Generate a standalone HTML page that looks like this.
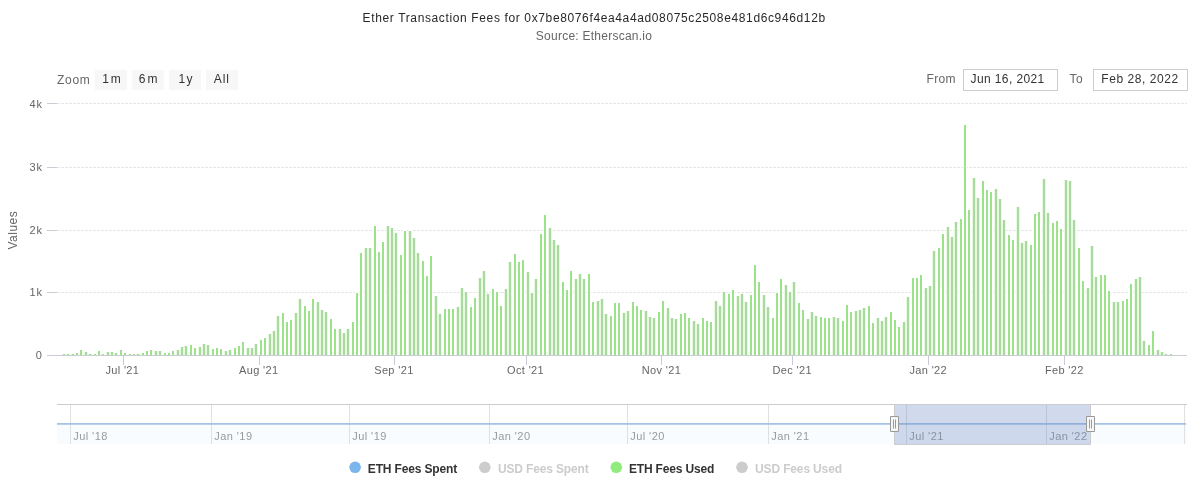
<!DOCTYPE html>
<html><head><meta charset="utf-8"><title>Ether Transaction Fees</title>
<style>svg{will-change:transform}html,body{margin:0;padding:0;background:#fff;width:1195px;height:482px;overflow:hidden;}</style>
</head><body>
<svg width="1195" height="482" viewBox="0 0 1195 482" style="display:block;font-family:'Liberation Sans', sans-serif">
<rect x="0" y="0" width="1195" height="482" fill="#ffffff"/>
<text x="594.2" y="22" text-anchor="middle" font-size="12" fill="#282828" letter-spacing="0.63">Ether Transaction Fees for 0x7be8076f4ea4a4ad08075c2508e481d6c946d12b</text>
<text x="594" y="40" text-anchor="middle" font-size="12" fill="#666666" letter-spacing="0.25">Source: Etherscan.io</text>
<text x="57" y="83.6" font-size="12" fill="#666666" letter-spacing="0.7">Zoom</text>
<rect x="95" y="70" width="32" height="20" fill="#f7f7f7"/>
<text x="112.50" y="82.7" text-anchor="middle" font-size="12" fill="#333333" letter-spacing="1.8">1m</text>
<rect x="132" y="70" width="32" height="20" fill="#f7f7f7"/>
<text x="149.10" y="82.7" text-anchor="middle" font-size="12" fill="#333333" letter-spacing="2.0">6m</text>
<rect x="169" y="70" width="32" height="20" fill="#f7f7f7"/>
<text x="186.25" y="82.7" text-anchor="middle" font-size="12" fill="#333333" letter-spacing="1.5">1y</text>
<rect x="206" y="70" width="32" height="20" fill="#f7f7f7"/>
<text x="221.80" y="82.7" text-anchor="middle" font-size="12" fill="#333333" letter-spacing="1.0">All</text>
<text x="926.5" y="83.2" font-size="12" fill="#666666" letter-spacing="0.3">From</text>
<rect x="963.5" y="69.5" width="94" height="21" fill="#ffffff" stroke="#cccccc" stroke-width="1"/>
<text x="1007.6" y="83.2" text-anchor="middle" font-size="12" fill="#333333" letter-spacing="0.4">Jun 16, 2021</text>
<text x="1069.5" y="83.2" font-size="12" fill="#666666" letter-spacing="0.6">To</text>
<rect x="1093.5" y="69.5" width="94" height="21" fill="#ffffff" stroke="#cccccc" stroke-width="1"/>
<text x="1140" y="83.2" text-anchor="middle" font-size="12" fill="#333333" letter-spacing="0.55">Feb 28, 2022</text>
<path d="M47 355.5 H57" stroke="#c9ccd4" stroke-width="1" fill="none"/>
<text x="42.9" y="359" text-anchor="end" font-size="11" fill="#666666" letter-spacing="0.9">0</text>
<path d="M57 292.5 H1187" stroke="#e6e6e6" stroke-width="1" stroke-dasharray="3,1" fill="none"/>
<path d="M47 292.5 H57" stroke="#c9ccd4" stroke-width="1" fill="none"/>
<text x="42.9" y="296" text-anchor="end" font-size="11" fill="#666666" letter-spacing="0.9">1k</text>
<path d="M57 230.5 H1187" stroke="#e6e6e6" stroke-width="1" stroke-dasharray="3,1" fill="none"/>
<path d="M47 230.5 H57" stroke="#c9ccd4" stroke-width="1" fill="none"/>
<text x="42.9" y="234" text-anchor="end" font-size="11" fill="#666666" letter-spacing="0.9">2k</text>
<path d="M57 167.5 H1187" stroke="#e6e6e6" stroke-width="1" stroke-dasharray="3,1" fill="none"/>
<path d="M47 167.5 H57" stroke="#c9ccd4" stroke-width="1" fill="none"/>
<text x="42.9" y="171" text-anchor="end" font-size="11" fill="#666666" letter-spacing="0.9">3k</text>
<path d="M57 103.5 H1187" stroke="#e6e6e6" stroke-width="1" stroke-dasharray="3,1" fill="none"/>
<path d="M47 103.5 H57" stroke="#c9ccd4" stroke-width="1" fill="none"/>
<text x="42.9" y="108" text-anchor="end" font-size="11" fill="#666666" letter-spacing="0.9">4k</text>
<text transform="translate(16.6 230.1) rotate(-90)" text-anchor="middle" font-size="12" fill="#666666" letter-spacing="0.5">Values</text>
<path d="M62 353h4V355h-4zM66 353h4V355h-4zM71 353h4V355h-4zM75 352h4V355h-4zM79 349h4V355h-4zM84 351h4V355h-4zM88 353h4V355h-4zM93 353h4V355h-4zM97 350h4V355h-4zM101 353h4V355h-4zM106 351h4V355h-4zM110 351h4V355h-4zM114 352h4V355h-4zM119 349h4V355h-4zM123 352h4V355h-4zM128 353h4V355h-4zM132 353h4V355h-4zM136 353h4V355h-4zM141 352h4V355h-4zM145 350h4V355h-4zM149 349h4V355h-4zM154 350h4V355h-4zM158 350h4V355h-4zM163 352h4V355h-4zM167 352h4V355h-4zM171 350h4V355h-4zM176 349h4V355h-4zM180 346h4V355h-4zM184 345h4V355h-4zM189 344h4V355h-4zM193 347h4V355h-4zM198 346h4V355h-4zM202 343h4V355h-4zM206 344h4V355h-4zM211 348h4V355h-4zM215 347h4V355h-4zM219 348h4V355h-4zM224 350h4V355h-4zM228 349h4V355h-4zM233 347h4V355h-4zM237 345h4V355h-4zM241 341h4V355h-4zM246 347h4V355h-4zM250 347h4V355h-4zM254 343h4V355h-4zM259 339h4V355h-4zM263 337h4V355h-4zM268 333h4V355h-4zM272 330h4V355h-4zM276 315h4V355h-4zM281 312h4V355h-4zM285 321h4V355h-4zM289 319h4V355h-4zM294 312h4V355h-4zM298 298h4V355h-4zM303 305h4V355h-4zM307 310h4V355h-4zM311 298h4V355h-4zM316 301h4V355h-4zM320 309h4V355h-4zM324 311h4V355h-4zM329 318h4V355h-4zM333 328h4V355h-4zM338 328h4V355h-4zM342 332h4V355h-4zM346 328h4V355h-4zM351 321h4V355h-4zM355 292h4V355h-4zM359 252h4V355h-4zM364 247h4V355h-4zM368 247h4V355h-4zM373 225h4V355h-4zM377 251h4V355h-4zM381 241h4V355h-4zM386 225h4V355h-4zM390 227h4V355h-4zM394 232h4V355h-4zM399 254h4V355h-4zM403 230h4V355h-4zM408 230h4V355h-4zM412 237h4V355h-4zM416 252h4V355h-4zM421 260h4V355h-4zM425 275h4V355h-4zM429 255h4V355h-4zM434 295h4V355h-4zM438 313h4V355h-4zM443 308h4V355h-4zM447 308h4V355h-4zM451 308h4V355h-4zM456 306h4V355h-4zM460 287h4V355h-4zM464 291h4V355h-4zM469 306h4V355h-4zM473 297h4V355h-4zM478 277h4V355h-4zM482 270h4V355h-4zM486 293h4V355h-4zM491 288h4V355h-4zM495 291h4V355h-4zM499 305h4V355h-4zM504 288h4V355h-4zM508 261h4V355h-4zM513 253h4V355h-4zM517 261h4V355h-4zM521 259h4V355h-4zM526 271h4V355h-4zM530 292h4V355h-4zM534 278h4V355h-4zM539 233h4V355h-4zM543 214h4V355h-4zM548 227h4V355h-4zM552 239h4V355h-4zM556 244h4V355h-4zM561 281h4V355h-4zM565 289h4V355h-4zM569 270h4V355h-4zM574 278h4V355h-4zM578 273h4V355h-4zM582 278h4V355h-4zM587 273h4V355h-4zM591 301h4V355h-4zM596 300h4V355h-4zM600 298h4V355h-4zM604 313h4V355h-4zM609 315h4V355h-4zM613 302h4V355h-4zM617 302h4V355h-4zM622 312h4V355h-4zM626 310h4V355h-4zM631 301h4V355h-4zM635 305h4V355h-4zM639 309h4V355h-4zM644 310h4V355h-4zM648 316h4V355h-4zM652 317h4V355h-4zM657 311h4V355h-4zM661 300h4V355h-4zM666 307h4V355h-4zM670 317h4V355h-4zM674 318h4V355h-4zM679 313h4V355h-4zM683 312h4V355h-4zM687 317h4V355h-4zM692 320h4V355h-4zM696 323h4V355h-4zM701 317h4V355h-4zM705 320h4V355h-4zM709 321h4V355h-4zM714 300h4V355h-4zM718 305h4V355h-4zM722 291h4V355h-4zM727 293h4V355h-4zM731 289h4V355h-4zM736 295h4V355h-4zM740 293h4V355h-4zM744 301h4V355h-4zM749 294h4V355h-4zM753 264h4V355h-4zM757 281h4V355h-4zM762 294h4V355h-4zM766 306h4V355h-4zM771 317h4V355h-4zM775 292h4V355h-4zM779 278h4V355h-4zM784 284h4V355h-4zM788 291h4V355h-4zM792 281h4V355h-4zM797 302h4V355h-4zM801 309h4V355h-4zM806 318h4V355h-4zM810 311h4V355h-4zM814 315h4V355h-4zM819 316h4V355h-4zM823 317h4V355h-4zM827 317h4V355h-4zM832 316h4V355h-4zM836 317h4V355h-4zM841 320h4V355h-4zM845 304h4V355h-4zM849 311h4V355h-4zM854 310h4V355h-4zM858 309h4V355h-4zM862 307h4V355h-4zM867 305h4V355h-4zM871 322h4V355h-4zM876 317h4V355h-4zM880 320h4V355h-4zM884 316h4V355h-4zM889 311h4V355h-4zM893 319h4V355h-4zM897 326h4V355h-4zM902 321h4V355h-4zM906 296h4V355h-4zM911 277h4V355h-4zM915 277h4V355h-4zM919 274h4V355h-4zM924 287h4V355h-4zM928 285h4V355h-4zM932 250h4V355h-4zM937 247h4V355h-4zM941 233h4V355h-4zM946 226h4V355h-4zM950 236h4V355h-4zM954 221h4V355h-4zM959 218h4V355h-4zM963 124h4V355h-4zM967 209h4V355h-4zM972 177h4V355h-4zM976 197h4V355h-4zM981 180h4V355h-4zM985 189h4V355h-4zM989 191h4V355h-4zM994 188h4V355h-4zM998 198h4V355h-4zM1002 219h4V355h-4zM1007 234h4V355h-4zM1011 239h4V355h-4zM1016 206h4V355h-4zM1020 242h4V355h-4zM1024 240h4V355h-4zM1029 244h4V355h-4zM1033 213h4V355h-4zM1037 211h4V355h-4zM1042 178h4V355h-4zM1046 212h4V355h-4zM1051 222h4V355h-4zM1055 220h4V355h-4zM1059 228h4V355h-4zM1064 179h4V355h-4zM1068 180h4V355h-4zM1072 219h4V355h-4zM1077 247h4V355h-4zM1081 280h4V355h-4zM1086 287h4V355h-4zM1090 245h4V355h-4zM1094 276h4V355h-4zM1099 274h4V355h-4zM1103 274h4V355h-4zM1107 290h4V355h-4zM1112 301h4V355h-4zM1116 301h4V355h-4zM1121 300h4V355h-4zM1125 298h4V355h-4zM1129 283h4V355h-4zM1134 278h4V355h-4zM1138 276h4V355h-4zM1142 340h4V355h-4zM1147 344h4V355h-4zM1151 330h4V355h-4zM1156 349h4V355h-4zM1160 351h4V355h-4zM1164 353h4V355h-4zM1169 353h4V355h-4z" fill="#ffffff"/>
<path d="M62 354h1V355h-1zM65 354h1V355h-1zM66 354h1V355h-1zM69 354h1V355h-1zM84 352h1V355h-1zM87 352h1V355h-1zM88 354h1V355h-1zM91 354h1V355h-1zM106 352h1V355h-1zM109 352h1V355h-1zM110 352h1V355h-1zM113 352h1V355h-1zM114 353h1V355h-1zM117 353h1V355h-1zM128 354h1V355h-1zM131 354h1V355h-1zM132 354h1V355h-1zM135 354h1V355h-1zM136 354h1V355h-1zM139 354h1V355h-1zM154 351h1V355h-1zM157 351h1V355h-1zM158 351h1V355h-1zM161 351h1V355h-1zM176 350h1V355h-1zM179 350h1V355h-1zM180 347h1V355h-1zM183 347h1V355h-1zM184 346h1V355h-1zM187 346h1V355h-1zM198 347h1V355h-1zM201 347h1V355h-1zM202 344h1V355h-1zM205 344h1V355h-1zM206 345h1V355h-1zM209 345h1V355h-1zM224 351h1V355h-1zM227 351h1V355h-1zM228 350h1V355h-1zM231 350h1V355h-1zM246 348h1V355h-1zM249 348h1V355h-1zM250 348h1V355h-1zM253 348h1V355h-1zM254 344h1V355h-1zM257 344h1V355h-1zM268 334h1V355h-1zM271 334h1V355h-1zM272 331h1V355h-1zM275 331h1V355h-1zM276 316h1V355h-1zM279 316h1V355h-1zM294 313h1V355h-1zM297 313h1V355h-1zM298 299h1V355h-1zM301 299h1V355h-1zM316 302h1V355h-1zM319 302h1V355h-1zM320 310h1V355h-1zM323 310h1V355h-1zM324 312h1V355h-1zM327 312h1V355h-1zM338 329h1V355h-1zM341 329h1V355h-1zM342 333h1V355h-1zM345 333h1V355h-1zM346 329h1V355h-1zM349 329h1V355h-1zM364 248h1V355h-1zM367 248h1V355h-1zM368 248h1V355h-1zM371 248h1V355h-1zM386 226h1V355h-1zM389 226h1V355h-1zM390 228h1V355h-1zM393 228h1V355h-1zM394 233h1V355h-1zM397 233h1V355h-1zM408 231h1V355h-1zM411 231h1V355h-1zM412 238h1V355h-1zM415 238h1V355h-1zM416 253h1V355h-1zM419 253h1V355h-1zM434 296h1V355h-1zM437 296h1V355h-1zM438 314h1V355h-1zM441 314h1V355h-1zM456 307h1V355h-1zM459 307h1V355h-1zM460 288h1V355h-1zM463 288h1V355h-1zM464 292h1V355h-1zM467 292h1V355h-1zM478 278h1V355h-1zM481 278h1V355h-1zM482 271h1V355h-1zM485 271h1V355h-1zM486 294h1V355h-1zM489 294h1V355h-1zM504 289h1V355h-1zM507 289h1V355h-1zM508 262h1V355h-1zM511 262h1V355h-1zM526 272h1V355h-1zM529 272h1V355h-1zM530 293h1V355h-1zM533 293h1V355h-1zM534 279h1V355h-1zM537 279h1V355h-1zM548 228h1V355h-1zM551 228h1V355h-1zM552 240h1V355h-1zM555 240h1V355h-1zM556 245h1V355h-1zM559 245h1V355h-1zM574 279h1V355h-1zM577 279h1V355h-1zM578 274h1V355h-1zM581 274h1V355h-1zM582 279h1V355h-1zM585 279h1V355h-1zM596 301h1V355h-1zM599 301h1V355h-1zM600 299h1V355h-1zM603 299h1V355h-1zM604 314h1V355h-1zM607 314h1V355h-1zM622 313h1V355h-1zM625 313h1V355h-1zM626 311h1V355h-1zM629 311h1V355h-1zM644 311h1V355h-1zM647 311h1V355h-1zM648 317h1V355h-1zM651 317h1V355h-1zM652 318h1V355h-1zM655 318h1V355h-1zM666 308h1V355h-1zM669 308h1V355h-1zM670 318h1V355h-1zM673 318h1V355h-1zM674 319h1V355h-1zM677 319h1V355h-1zM692 321h1V355h-1zM695 321h1V355h-1zM696 324h1V355h-1zM699 324h1V355h-1zM714 301h1V355h-1zM717 301h1V355h-1zM718 306h1V355h-1zM721 306h1V355h-1zM722 292h1V355h-1zM725 292h1V355h-1zM736 296h1V355h-1zM739 296h1V355h-1zM740 294h1V355h-1zM743 294h1V355h-1zM744 302h1V355h-1zM747 302h1V355h-1zM762 295h1V355h-1zM765 295h1V355h-1zM766 307h1V355h-1zM769 307h1V355h-1zM784 285h1V355h-1zM787 285h1V355h-1zM788 292h1V355h-1zM791 292h1V355h-1zM792 282h1V355h-1zM795 282h1V355h-1zM806 319h1V355h-1zM809 319h1V355h-1zM810 312h1V355h-1zM813 312h1V355h-1zM814 316h1V355h-1zM817 316h1V355h-1zM832 317h1V355h-1zM835 317h1V355h-1zM836 318h1V355h-1zM839 318h1V355h-1zM854 311h1V355h-1zM857 311h1V355h-1zM858 310h1V355h-1zM861 310h1V355h-1zM862 308h1V355h-1zM865 308h1V355h-1zM876 318h1V355h-1zM879 318h1V355h-1zM880 321h1V355h-1zM883 321h1V355h-1zM884 317h1V355h-1zM887 317h1V355h-1zM902 322h1V355h-1zM905 322h1V355h-1zM906 297h1V355h-1zM909 297h1V355h-1zM924 288h1V355h-1zM927 288h1V355h-1zM928 286h1V355h-1zM931 286h1V355h-1zM932 251h1V355h-1zM935 251h1V355h-1zM946 227h1V355h-1zM949 227h1V355h-1zM950 237h1V355h-1zM953 237h1V355h-1zM954 222h1V355h-1zM957 222h1V355h-1zM972 178h1V355h-1zM975 178h1V355h-1zM976 198h1V355h-1zM979 198h1V355h-1zM994 189h1V355h-1zM997 189h1V355h-1zM998 199h1V355h-1zM1001 199h1V355h-1zM1002 220h1V355h-1zM1005 220h1V355h-1zM1016 207h1V355h-1zM1019 207h1V355h-1zM1020 243h1V355h-1zM1023 243h1V355h-1zM1024 241h1V355h-1zM1027 241h1V355h-1zM1042 179h1V355h-1zM1045 179h1V355h-1zM1046 213h1V355h-1zM1049 213h1V355h-1zM1064 180h1V355h-1zM1067 180h1V355h-1zM1068 181h1V355h-1zM1071 181h1V355h-1zM1072 220h1V355h-1zM1075 220h1V355h-1zM1086 288h1V355h-1zM1089 288h1V355h-1zM1090 246h1V355h-1zM1093 246h1V355h-1zM1094 277h1V355h-1zM1097 277h1V355h-1zM1112 302h1V355h-1zM1115 302h1V355h-1zM1116 302h1V355h-1zM1119 302h1V355h-1zM1134 279h1V355h-1zM1137 279h1V355h-1zM1138 277h1V355h-1zM1141 277h1V355h-1zM1142 341h1V355h-1zM1145 341h1V355h-1zM1156 350h1V355h-1zM1159 350h1V355h-1zM1160 352h1V355h-1zM1163 352h1V355h-1zM1164 354h1V355h-1zM1167 354h1V355h-1z" fill="#e8fbdf"/>
<path d="M72 354h2V355h-2zM76 353h2V355h-2zM80 350h2V355h-2zM94 354h2V355h-2zM98 351h2V355h-2zM102 354h2V355h-2zM120 350h2V355h-2zM124 353h2V355h-2zM142 353h2V355h-2zM146 351h2V355h-2zM150 350h2V355h-2zM164 353h2V355h-2zM168 353h2V355h-2zM172 351h2V355h-2zM190 345h2V355h-2zM194 348h2V355h-2zM212 349h2V355h-2zM216 348h2V355h-2zM220 349h2V355h-2zM234 348h2V355h-2zM238 346h2V355h-2zM242 342h2V355h-2zM260 340h2V355h-2zM264 338h2V355h-2zM282 313h2V355h-2zM286 322h2V355h-2zM290 320h2V355h-2zM304 306h2V355h-2zM308 311h2V355h-2zM312 299h2V355h-2zM330 319h2V355h-2zM334 329h2V355h-2zM352 322h2V355h-2zM356 293h2V355h-2zM360 253h2V355h-2zM374 226h2V355h-2zM378 252h2V355h-2zM382 242h2V355h-2zM400 255h2V355h-2zM404 231h2V355h-2zM422 261h2V355h-2zM426 276h2V355h-2zM430 256h2V355h-2zM444 309h2V355h-2zM448 309h2V355h-2zM452 309h2V355h-2zM470 307h2V355h-2zM474 298h2V355h-2zM492 289h2V355h-2zM496 292h2V355h-2zM500 306h2V355h-2zM514 254h2V355h-2zM518 262h2V355h-2zM522 260h2V355h-2zM540 234h2V355h-2zM544 215h2V355h-2zM562 282h2V355h-2zM566 290h2V355h-2zM570 271h2V355h-2zM588 274h2V355h-2zM592 302h2V355h-2zM610 316h2V355h-2zM614 303h2V355h-2zM618 303h2V355h-2zM632 302h2V355h-2zM636 306h2V355h-2zM640 310h2V355h-2zM658 312h2V355h-2zM662 301h2V355h-2zM680 314h2V355h-2zM684 313h2V355h-2zM688 318h2V355h-2zM702 318h2V355h-2zM706 321h2V355h-2zM710 322h2V355h-2zM728 294h2V355h-2zM732 290h2V355h-2zM750 295h2V355h-2zM754 265h2V355h-2zM758 282h2V355h-2zM772 318h2V355h-2zM776 293h2V355h-2zM780 279h2V355h-2zM798 303h2V355h-2zM802 310h2V355h-2zM820 317h2V355h-2zM824 318h2V355h-2zM828 318h2V355h-2zM842 321h2V355h-2zM846 305h2V355h-2zM850 312h2V355h-2zM868 306h2V355h-2zM872 323h2V355h-2zM890 312h2V355h-2zM894 320h2V355h-2zM898 327h2V355h-2zM912 278h2V355h-2zM916 278h2V355h-2zM920 275h2V355h-2zM938 248h2V355h-2zM942 234h2V355h-2zM960 219h2V355h-2zM964 125h2V355h-2zM968 210h2V355h-2zM982 181h2V355h-2zM986 190h2V355h-2zM990 192h2V355h-2zM1008 235h2V355h-2zM1012 240h2V355h-2zM1030 245h2V355h-2zM1034 214h2V355h-2zM1038 212h2V355h-2zM1052 223h2V355h-2zM1056 221h2V355h-2zM1060 229h2V355h-2zM1078 248h2V355h-2zM1082 281h2V355h-2zM1100 275h2V355h-2zM1104 275h2V355h-2zM1108 291h2V355h-2zM1122 301h2V355h-2zM1126 299h2V355h-2zM1130 284h2V355h-2zM1148 345h2V355h-2zM1152 331h2V355h-2zM1170 354h2V355h-2z" fill="#9be28b"/>
<path d="M63 354h2V355h-2zM67 354h2V355h-2zM85 352h2V355h-2zM89 354h2V355h-2zM107 352h2V355h-2zM111 352h2V355h-2zM115 353h2V355h-2zM129 354h2V355h-2zM133 354h2V355h-2zM137 354h2V355h-2zM155 351h2V355h-2zM159 351h2V355h-2zM177 350h2V355h-2zM181 347h2V355h-2zM185 346h2V355h-2zM199 347h2V355h-2zM203 344h2V355h-2zM207 345h2V355h-2zM225 351h2V355h-2zM229 350h2V355h-2zM247 348h2V355h-2zM251 348h2V355h-2zM255 344h2V355h-2zM269 334h2V355h-2zM273 331h2V355h-2zM277 316h2V355h-2zM295 313h2V355h-2zM299 299h2V355h-2zM317 302h2V355h-2zM321 310h2V355h-2zM325 312h2V355h-2zM339 329h2V355h-2zM343 333h2V355h-2zM347 329h2V355h-2zM365 248h2V355h-2zM369 248h2V355h-2zM387 226h2V355h-2zM391 228h2V355h-2zM395 233h2V355h-2zM409 231h2V355h-2zM413 238h2V355h-2zM417 253h2V355h-2zM435 296h2V355h-2zM439 314h2V355h-2zM457 307h2V355h-2zM461 288h2V355h-2zM465 292h2V355h-2zM479 278h2V355h-2zM483 271h2V355h-2zM487 294h2V355h-2zM505 289h2V355h-2zM509 262h2V355h-2zM527 272h2V355h-2zM531 293h2V355h-2zM535 279h2V355h-2zM549 228h2V355h-2zM553 240h2V355h-2zM557 245h2V355h-2zM575 279h2V355h-2zM579 274h2V355h-2zM583 279h2V355h-2zM597 301h2V355h-2zM601 299h2V355h-2zM605 314h2V355h-2zM623 313h2V355h-2zM627 311h2V355h-2zM645 311h2V355h-2zM649 317h2V355h-2zM653 318h2V355h-2zM667 308h2V355h-2zM671 318h2V355h-2zM675 319h2V355h-2zM693 321h2V355h-2zM697 324h2V355h-2zM715 301h2V355h-2zM719 306h2V355h-2zM723 292h2V355h-2zM737 296h2V355h-2zM741 294h2V355h-2zM745 302h2V355h-2zM763 295h2V355h-2zM767 307h2V355h-2zM785 285h2V355h-2zM789 292h2V355h-2zM793 282h2V355h-2zM807 319h2V355h-2zM811 312h2V355h-2zM815 316h2V355h-2zM833 317h2V355h-2zM837 318h2V355h-2zM855 311h2V355h-2zM859 310h2V355h-2zM863 308h2V355h-2zM877 318h2V355h-2zM881 321h2V355h-2zM885 317h2V355h-2zM903 322h2V355h-2zM907 297h2V355h-2zM925 288h2V355h-2zM929 286h2V355h-2zM933 251h2V355h-2zM947 227h2V355h-2zM951 237h2V355h-2zM955 222h2V355h-2zM973 178h2V355h-2zM977 198h2V355h-2zM995 189h2V355h-2zM999 199h2V355h-2zM1003 220h2V355h-2zM1017 207h2V355h-2zM1021 243h2V355h-2zM1025 241h2V355h-2zM1043 179h2V355h-2zM1047 213h2V355h-2zM1065 180h2V355h-2zM1069 181h2V355h-2zM1073 220h2V355h-2zM1087 288h2V355h-2zM1091 246h2V355h-2zM1095 277h2V355h-2zM1113 302h2V355h-2zM1117 302h2V355h-2zM1135 279h2V355h-2zM1139 277h2V355h-2zM1143 341h2V355h-2zM1157 350h2V355h-2zM1161 352h2V355h-2zM1165 354h2V355h-2z" fill="#aad8a2"/>
<path d="M57 355.5 H1187" stroke="#c9ccd4" stroke-width="1" fill="none"/>
<path d="M123.5 355.5 V365" stroke="#c6cbd8" stroke-width="1" fill="none"/>
<text x="122.37" y="373.7" text-anchor="middle" font-size="11" fill="#666666" letter-spacing="0.35">Jul '21</text>
<path d="M259.5 355.5 V365" stroke="#c6cbd8" stroke-width="1" fill="none"/>
<text x="258.72" y="373.7" text-anchor="middle" font-size="11" fill="#666666" letter-spacing="0.35">Aug '21</text>
<path d="M394.5 355.5 V365" stroke="#c6cbd8" stroke-width="1" fill="none"/>
<text x="393.93" y="373.7" text-anchor="middle" font-size="11" fill="#666666" letter-spacing="0.35">Sep '21</text>
<path d="M526.5 355.5 V365" stroke="#c6cbd8" stroke-width="1" fill="none"/>
<text x="525.56" y="373.7" text-anchor="middle" font-size="11" fill="#666666" letter-spacing="0.35">Oct '21</text>
<path d="M661.5 355.5 V365" stroke="#c6cbd8" stroke-width="1" fill="none"/>
<text x="661.42" y="373.7" text-anchor="middle" font-size="11" fill="#666666" letter-spacing="0.35">Nov '21</text>
<path d="M792.5 355.5 V365" stroke="#c6cbd8" stroke-width="1" fill="none"/>
<text x="792.20" y="373.7" text-anchor="middle" font-size="11" fill="#666666" letter-spacing="0.35">Dec '21</text>
<path d="M928.5 355.5 V365" stroke="#c6cbd8" stroke-width="1" fill="none"/>
<text x="928.25" y="373.7" text-anchor="middle" font-size="11" fill="#666666" letter-spacing="0.35">Jan '22</text>
<path d="M1064.5 355.5 V365" stroke="#c6cbd8" stroke-width="1" fill="none"/>
<text x="1064.31" y="373.7" text-anchor="middle" font-size="11" fill="#666666" letter-spacing="0.35">Feb '22</text>
<rect x="57" y="424" width="1130" height="20" fill="#7cb5ec" fill-opacity="0.045"/>
<path d="M70.5 404.5 V444" stroke="#e0e0e0" stroke-width="1" fill="none"/>
<text x="73.2" y="439.5" font-size="11" fill="#999999" letter-spacing="0.45">Jul '18</text>
<path d="M211.5 404.5 V444" stroke="#e0e0e0" stroke-width="1" fill="none"/>
<text x="214.2" y="439.5" font-size="11" fill="#999999" letter-spacing="0.45">Jan '19</text>
<path d="M349.5 404.5 V444" stroke="#e0e0e0" stroke-width="1" fill="none"/>
<text x="352.2" y="439.5" font-size="11" fill="#999999" letter-spacing="0.45">Jul '19</text>
<path d="M489.5 404.5 V444" stroke="#e0e0e0" stroke-width="1" fill="none"/>
<text x="492.2" y="439.5" font-size="11" fill="#999999" letter-spacing="0.45">Jan '20</text>
<path d="M627.5 404.5 V444" stroke="#e0e0e0" stroke-width="1" fill="none"/>
<text x="630.2" y="439.5" font-size="11" fill="#999999" letter-spacing="0.45">Jul '20</text>
<path d="M768.5 404.5 V444" stroke="#e0e0e0" stroke-width="1" fill="none"/>
<text x="771.2" y="439.5" font-size="11" fill="#999999" letter-spacing="0.45">Jan '21</text>
<path d="M906.5 404.5 V444" stroke="#e0e0e0" stroke-width="1" fill="none"/>
<text x="909.2" y="439.5" font-size="11" fill="#999999" letter-spacing="0.45">Jul '21</text>
<path d="M1046.5 404.5 V444" stroke="#e0e0e0" stroke-width="1" fill="none"/>
<text x="1049.2" y="439.5" font-size="11" fill="#999999" letter-spacing="0.45">Jan '22</text>
<path d="M1184.5 404.5 V444" stroke="#e0e0e0" stroke-width="1" fill="none"/>
<path d="M57 423.9 H1186" stroke="#a3c2e4" stroke-width="1.6" fill="none"/>
<rect x="894" y="404" width="197" height="41" fill="rgb(102,133,194)" fill-opacity="0.3"/>
<path d="M57 404.5 H1187 M894.5 404.5 V444.5 H1090.5 V404.5" stroke="#cccccc" stroke-width="1" fill="none"/>
<path d="M890.5 416.5 h8 v15 h-8 z" fill="#f7f7f7" stroke="#999999" stroke-width="1"/>
<path d="M893.5 419.5 V428.5 M895.5 419.5 V428.5" stroke="#999999" stroke-width="1" fill="none"/>
<path d="M1086.5 416.5 h8 v15 h-8 z" fill="#f7f7f7" stroke="#999999" stroke-width="1"/>
<path d="M1089.5 419.5 V428.5 M1091.5 419.5 V428.5" stroke="#999999" stroke-width="1" fill="none"/>
<circle cx="355.1" cy="467.3" r="5.8" fill="#7cb5ec"/>
<text x="367.8" y="473" font-size="12" font-weight="bold" fill="#333333" letter-spacing="-0.15">ETH Fees Spent</text>
<circle cx="484.8" cy="467.3" r="5.8" fill="#cccccc"/>
<text x="497.9" y="473" font-size="12" font-weight="bold" fill="#cccccc" letter-spacing="-0.15">USD Fees Spent</text>
<circle cx="616.3" cy="467.3" r="5.8" fill="#90ed7d"/>
<text x="628.9" y="473" font-size="12" font-weight="bold" fill="#333333" letter-spacing="-0.15">ETH Fees Used</text>
<circle cx="742" cy="467.3" r="5.8" fill="#cccccc"/>
<text x="755.1" y="473" font-size="12" font-weight="bold" fill="#cccccc" letter-spacing="-0.15">USD Fees Used</text>
</svg>
</body></html>
